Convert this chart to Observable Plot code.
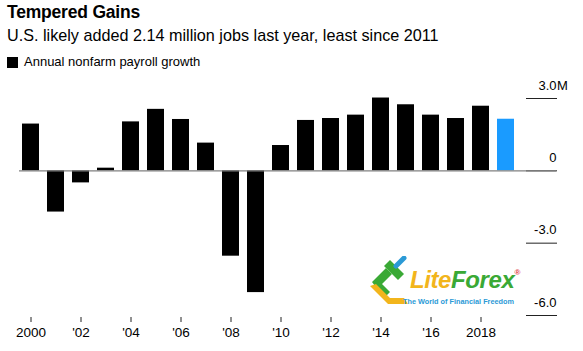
<!DOCTYPE html>
<html>
<head>
<meta charset="utf-8">
<script src="https://cdn.jsdelivr.net/npm/d3@7"></script>
<script src="https://cdn.jsdelivr.net/npm/@observablehq/plot@0.6"></script>
<style>
  html, body { margin: 0; padding: 0; background: #fff; }
  body { width: 583px; height: 351px; position: relative; overflow: hidden; font-family: "Liberation Sans", Arial, Helvetica, sans-serif; color: #000; }
  #title { position: absolute; left: 7px; top: 0; line-height: 24px; font-size: 17.5px; font-weight: bold; letter-spacing: -0.2px; }
  #subtitle { position: absolute; left: 7px; top: 24px; line-height: 22px; font-size: 16.2px; }
  #legend { position: absolute; left: 7px; top: 53px; line-height: 18px; font-size: 13px; display: flex; align-items: center; }
  #legend .sw { width: 11px; height: 11px; background: #000; margin-right: 6px; }
  #chart { position: absolute; left: 0; top: 75px; }
  #logo { position: absolute; left: 368px; top: 256px; width: 160px; height: 52px; pointer-events: none; }
  #logo .name { position: absolute; left: 42px; top: 11px; font-size: 24px; font-weight: bold; font-style: italic; letter-spacing: -0.4px; line-height: 26px; }
  #logo .tag { position: absolute; left: 35px; top: 41px; font-size: 7.3px; font-weight: bold; color: #2b9ad6; white-space: nowrap; line-height: 10px; }
</style>
</head>
<body>
<div id="title">Tempered Gains</div>
<div id="subtitle">U.S. likely added 2.14 million jobs last year, least since 2011</div>
<div id="legend"><span class="sw"></span><span>Annual nonfarm payroll growth</span></div>
<div id="chart"></div>
<div id="logo">
  <svg width="46" height="50" viewBox="0 0 46 50" style="position:absolute;left:0;top:0">
    <path d="M4 26 L18 12 L24 18 L14 28 L22 36 L16 42 Z" fill="#3aa935"/>
    <path d="M2 30 L20 48 L40 48 L36 42 L22 42 L8 28 Z" fill="#f2b51c"/>
    <path d="M16 10 L22 4 L36 18 L30 24 Z" fill="#3aa935"/>
    <path d="M28 10 L36 2" stroke="#2b9ad6" stroke-width="5" stroke-linecap="round"/>
  </svg>
  <div class="name"><span style="color:#f2b51c">Lite</span><span style="color:#3aa935">Forex</span><sup style="color:#e0393e;font-size:8px;font-style:normal;vertical-align:top;line-height:12px">®</sup></div>
  <div class="tag">The World of Financial Freedom</div>
</div>
<script>
const years = [2000, 2001, 2002, 2003, 2004, 2005, 2006, 2007, 2008, 2009, 2010, 2011, 2012, 2013, 2014, 2015, 2016, 2017, 2018, 2019];
const payrollGrowth = [1.94, -1.71, -0.50, 0.11, 2.03, 2.55, 2.13, 1.15, -3.54, -5.05, 1.05, 2.09, 2.17, 2.31, 3.02, 2.74, 2.31, 2.17, 2.68, 2.14];
const highlightYear = 2019;
const xTicks = [2000, 2002, 2004, 2006, 2008, 2010, 2012, 2014, 2016, 2018];
const xTickLabels = ["2000", "'02", "'04", "'06", "'08", "'10", "'12", "'14", "'16", "2018"];
const yTicks = [-6, -3, 0, 3];
const yTickLabels = ["-6.0", "-3.0", "0", "3.0"];
const yUnit = "M";

const data = years.map((year, i) => ({year, value: payrollGrowth[i]}));

const chart = Plot.plot({
  width: 583,
  height: 276,
  marginLeft: 10.7,
  marginRight: 58,
  marginTop: 23,
  marginBottom: 36,
  style: {fontFamily: '"Liberation Sans", Arial, Helvetica, sans-serif', fontSize: "13px", color: "#000", background: "#fff"},
  x: {type: "band", domain: years, padding: 0.33},
  y: {domain: [-6, 3]},
  color: {type: "identity"},
  marks: [
    Plot.axisY({anchor: "right", ticks: yTicks, tickSize: 31, tickFormat: () => "", label: null, stroke: "#222"}),
    Plot.axisY({anchor: "right", ticks: yTicks, tickSize: 0, tickPadding: 31, textAnchor: "end", dy: -13,
      tickFormat: d => yTickLabels[yTicks.indexOf(d)], label: null, fontSize: 13}),
    Plot.text([3], {y: d => d, text: () => yUnit, frameAnchor: "right", textAnchor: "start", dx: 31.5, dy: -13, fontSize: 13}),
    Plot.axisX({ticks: xTicks, tickSize: 5, tickPadding: 5, dy: 2, tickFormat: d => xTickLabels[xTicks.indexOf(d)], label: null, stroke: "#222", fontSize: 13.5}),
    Plot.barY(data, {x: "year", y: "value", fill: d => d.year === highlightYear ? "#1a9bff" : "#000"}),
    Plot.ruleY([0], {stroke: "#808080", strokeWidth: 1.2, insetLeft: 8.3, insetRight: -31})
  ]
});
document.getElementById("chart").appendChild(chart);
</script>
</body>
</html>
